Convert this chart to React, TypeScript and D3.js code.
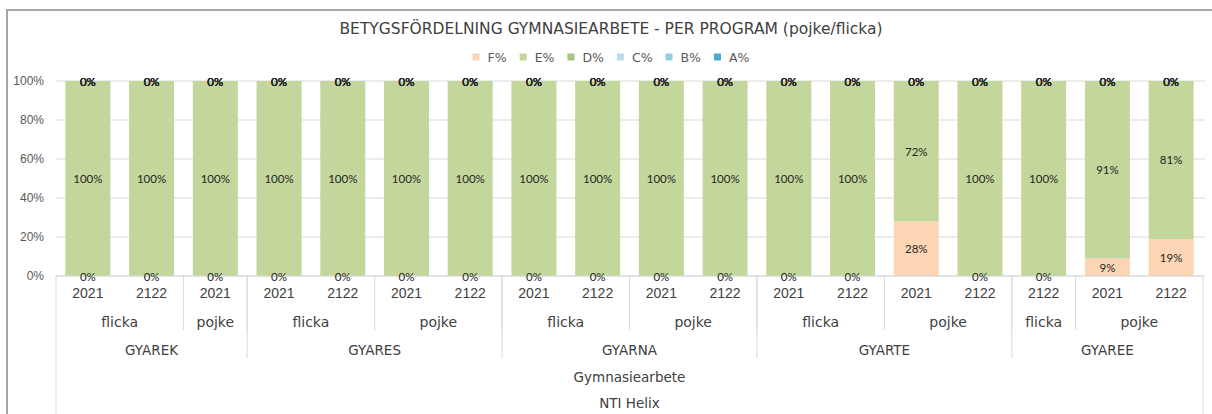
import React from "react";
import * as d3 from "d3";

const barProgram = [
  "GYAREK", "GYAREK", "GYAREK",
  "GYARES", "GYARES", "GYARES", "GYARES",
  "GYARNA", "GYARNA", "GYARNA", "GYARNA",
  "GYARTE", "GYARTE", "GYARTE", "GYARTE",
  "GYAREE", "GYAREE", "GYAREE",
];
const barSex = [
  "flicka", "flicka", "pojke",
  "flicka", "flicka", "pojke", "pojke",
  "flicka", "flicka", "pojke", "pojke",
  "flicka", "flicka", "pojke", "pojke",
  "flicka", "pojke", "pojke",
];
const barYear = [
  "2021", "2122", "2021",
  "2021", "2122", "2021", "2122",
  "2021", "2122", "2021", "2122",
  "2021", "2122", "2021", "2122",
  "2122", "2021", "2122",
];
const level4 = "Gymnasiearbete";
const level5 = "NTI Helix";

const seriesNames = ["F%", "E%", "D%", "C%", "B%", "A%"];
const seriesColors = ["#FCD5B5", "#C3D69B", "#A9C47F", "#B7DEE8", "#92CDDC", "#4BACC6"];
const F = [0, 0, 0, 0, 0, 0, 0, 0, 0, 0, 0, 0, 0, 28, 0, 0, 9, 19];
const E = [100, 100, 100, 100, 100, 100, 100, 100, 100, 100, 100, 100, 100, 72, 100, 100, 91, 81];
const D = [0, 0, 0, 0, 0, 0, 0, 0, 0, 0, 0, 0, 0, 0, 0, 0, 0, 0];
const C = [0, 0, 0, 0, 0, 0, 0, 0, 0, 0, 0, 0, 0, 0, 0, 0, 0, 0];
const B = [0, 0, 0, 0, 0, 0, 0, 0, 0, 0, 0, 0, 0, 0, 0, 0, 0, 0];
const A = [0, 0, 0, 0, 0, 0, 0, 0, 0, 0, 0, 0, 0, 0, 0, 0, 0, 0];
const seriesValues = [F, E, D, C, B, A];
const yTicks = [0, 20, 40, 60, 80, 100];
const title = "BETYGSFÖRDELNING GYMNASIEARBETE - PER PROGRAM (pojke/flicka)";

const W = 1212, H = 414;
const left = 56, right = 1203, top = 81, bottom = 276;
const numFont = "'Liberation Sans', Arial, sans-serif";
const wordFont = "'DejaVu Sans', sans-serif";
const labelFont = "Lato, 'Open Sans', sans-serif";
const grid = "#D9D9D9";
const textColor = "#404040";

function runs(keys: string[]) {
  const out: { key: string; start: number; end: number }[] = [];
  keys.forEach((k, i) => {
    const last = out[out.length - 1];
    if (last && last.key === k) last.end = i;
    else out.push({ key: k, start: i, end: i });
  });
  return out;
}

let ctx: CanvasRenderingContext2D | null = null;
function measure(text: string, font: string) {
  if (!ctx) ctx = document.createElement("canvas").getContext("2d");
  if (!ctx) return text.length * 7;
  ctx.font = font;
  return ctx.measureText(text).width;
}

export default function App() {
  const n = barYear.length;
  const idx = d3.range(n).map(String);
  const x = d3.scaleBand<string>().domain(idx).range([left, right]).paddingInner(0.294).paddingOuter(0.147);
  const step = x.step();
  const y = d3.scaleLinear().domain([0, 100]).range([bottom, top]);

  const rows = d3.range(n).map((i) => {
    const r: any = { i };
    seriesNames.forEach((s, k) => (r[s] = seriesValues[k][i]));
    return r;
  });
  const stacked = d3.stack<any>().keys(seriesNames)(rows);

  const edge = (i: number) => left + i * step;
  const sexRuns = runs(barProgram.map((p, i) => p + "|" + barSex[i]));
  const progRuns = runs(barProgram);

  const rowY = [293, 322, 350, 377, 403];
  const sexLineEnd = 330, progLineEnd = 358;

  // legend layout
  const legFontSize = 12.5;
  const legFont = `${legFontSize}px 'DejaVu Sans'`;
  const sq = 7, sqGap = 8, itemGap = 13;
  const widths = seriesNames.map((s) => sq + sqGap + measure(s, legFont));
  const total = d3.sum(widths) + itemGap * (widths.length - 1);
  const legStart = 611 - total / 2;
  const legXs: number[] = [];
  widths.reduce((acc, w) => { legXs.push(acc); return acc + w + itemGap; }, legStart);
  const legendY = 57;

  return (
    <svg width={W} height={H} style={{ position: "absolute", left: 0, top: 0, background: "#fff" }}>
      <rect x={0} y={0} width={W} height={H} fill="#fff" />
      <line x1={7} y1={10} x2={7} y2={H} stroke="#A6A6A6" strokeWidth={2} />
      <line x1={6} y1={10} x2={W} y2={10} stroke="#A6A6A6" strokeWidth={2} />

      <text x={611} y={29} textAnchor="middle" dominantBaseline="central" fontFamily={wordFont} fontSize={15.5} fill={textColor}>
        {title}
      </text>

      {seriesNames.map((s, k) => (
        <g key={s} transform={`translate(${legXs[k]},${legendY})`}>
          <rect x={0} y={-sq / 2} width={sq} height={sq} fill={seriesColors[k]} />
          <text x={sq + sqGap} y={0} dominantBaseline="central" fontFamily={wordFont} fontSize={legFontSize} fill="#595959">{s}</text>
        </g>
      ))}

      {yTicks.map((t) => (
        <g key={t}>
          <line x1={left} x2={right + 2} y1={y(t)} y2={y(t)} stroke={grid} strokeWidth={1} />
          <text x={44} y={y(t)} textAnchor="end" dominantBaseline="central" fontFamily={numFont} fontSize={12} fill="#595959">
            {t}%
          </text>
        </g>
      ))}

      {stacked.map((ser, k) => (
        <g key={ser.key} fill={seriesColors[k]}>
          {ser.map((d, i) => (
            <rect key={i} x={x(String(i))} width={x.bandwidth()} y={y(d[1])} height={Math.max(0, y(d[0]) - y(d[1]))} />
          ))}
        </g>
      ))}

      <line x1={left} x2={right} y1={bottom} y2={bottom} stroke={grid} />
      <line x1={left} x2={left} y1={bottom} y2={H} stroke={grid} />
      <line x1={right} x2={right} y1={bottom} y2={H} stroke={grid} />
      {sexRuns.slice(1).map((r, j) => (
        <line key={"s" + j} x1={edge(r.start)} x2={edge(r.start)} y1={bottom} y2={sexLineEnd} stroke={grid} />
      ))}
      {progRuns.slice(1).map((r, j) => (
        <line key={"p" + j} x1={edge(r.start)} x2={edge(r.start)} y1={bottom} y2={progLineEnd} stroke={grid} />
      ))}

      {stacked.map((ser, k) => (
        <g key={"l" + ser.key}>
          {ser.map((d, i) => (
            <text key={i} x={(x(String(i)) as number) + x.bandwidth() / 2} y={y((d[0] + d[1]) / 2)}
              textAnchor="middle" dominantBaseline="central" fontFamily={labelFont} fontSize={11.5} fill="#262626">
              {seriesValues[k][i]}%
            </text>
          ))}
        </g>
      ))}

      {barYear.map((yr, i) => (
        <text key={"y" + i} x={(x(String(i)) as number) + x.bandwidth() / 2} y={rowY[0]} textAnchor="middle"
          dominantBaseline="central" fontFamily={numFont} fontSize={14} fill={textColor}>{yr}</text>
      ))}
      {sexRuns.map((r, j) => (
        <text key={"sx" + j} x={(edge(r.start) + edge(r.end + 1)) / 2} y={rowY[1]} textAnchor="middle"
          dominantBaseline="central" fontFamily={wordFont} fontSize={14} fill={textColor}>{barSex[r.start]}</text>
      ))}
      {progRuns.map((r, j) => (
        <text key={"pr" + j} x={(edge(r.start) + edge(r.end + 1)) / 2} y={rowY[2]} textAnchor="middle"
          dominantBaseline="central" fontFamily={wordFont} fontSize={13.5} fill={textColor}>{r.key}</text>
      ))}
      <text x={(left + right) / 2} y={rowY[3]} textAnchor="middle" dominantBaseline="central" fontFamily={wordFont} fontSize={13.5} fill={textColor}>{level4}</text>
      <text x={(left + right) / 2} y={rowY[4]} textAnchor="middle" dominantBaseline="central" fontFamily={wordFont} fontSize={13.5} fill={textColor}>{level5}</text>
    </svg>
  );
}
